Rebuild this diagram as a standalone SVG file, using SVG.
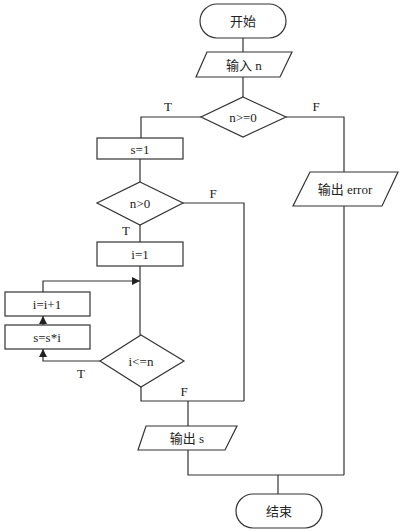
<svg xmlns="http://www.w3.org/2000/svg" width="401" height="532" viewBox="0 0 401 532">
<defs>
<marker id="arr" viewBox="0 0 10 10" refX="10" refY="5" markerWidth="8" markerHeight="8" markerUnits="userSpaceOnUse" orient="auto">
<path d="M0,0 L10,5 L0,10 Z" fill="#222"/>
</marker>
</defs>
<style>
.s{fill:#fff;stroke:#333;stroke-width:1.2}
.c{fill:none;stroke:#333;stroke-width:1.2}
text{font-family:"Liberation Serif","Noto Sans CJK SC",serif;font-size:13px;fill:#222;text-anchor:middle;dominant-baseline:central}
.l{font-size:13px}
</style>
<rect width="401" height="532" fill="#fff"/>
<g id="connectors">
<path class="c" d="M243,38 V52"/>
<path class="c" d="M243,77 V97"/>
<path class="c" d="M201,117 H141 V138"/>
<path class="c" d="M286,117 H344 V172"/>
<path class="c" d="M344,206 V475"/>
<path class="c" d="M140,159 V182"/>
<path class="c" d="M140,225 V242"/>
<path class="c" d="M183,203 H244 V401"/>
<path class="c" d="M140,266 V335"/>
<path class="c" d="M43,292 V281 H140" marker-end="url(#arr)"/>
<path class="c" d="M43,325 V316" marker-end="url(#arr)"/>
<path class="c" d="M100,361 H43 V349" marker-end="url(#arr)"/>
<path class="c" d="M141,387 V401 H244"/>
<path class="c" d="M188,401 V426"/>
<path class="c" d="M188,450 V475 H344"/>
<path class="c" d="M278,475 V494"/>
<text class="l" x="168" y="106">T</text>
<text class="l" x="316" y="106">F</text>
<text class="l" x="213" y="193">F</text>
<text class="l" x="126" y="230">T</text>
<text class="l" x="81" y="373">T</text>
<text class="l" x="184" y="391">F</text>
</g>
<g id="start"><rect class="s" x="200" y="4" width="86" height="34" rx="17"/><text x="243" y="21">开始</text></g>
<g id="input"><path class="s" d="M207,52 H292 L280,77 H196 Z"/><text x="244" y="65">输入 n</text></g>
<g id="cond1"><path class="s" d="M243,97 L286,117 L243,137 L201,117 Z"/><text x="243" y="117">n&gt;=0</text></g>
<g id="s1"><rect class="s" x="97" y="138" width="86" height="21"/><text x="140" y="149">s=1</text></g>
<g id="cond2"><path class="s" d="M140,182 L183,203 L140,225 L97,203 Z"/><text x="140" y="203">n&gt;0</text></g>
<g id="i1"><rect class="s" x="97" y="242" width="86" height="24"/><text x="140" y="254">i=1</text></g>
<g id="inc"><rect class="s" x="5" y="292" width="85" height="24"/><text x="47" y="304">i=i+1</text></g>
<g id="mul"><rect class="s" x="5" y="325" width="85" height="24"/><text x="47" y="337">s=s*i</text></g>
<g id="cond3"><path class="s" d="M141,335 L184,361 L141,387 L100,361 Z"/><text x="141" y="361">i&lt;=n</text></g>
<g id="outs"><path class="s" d="M146,426 H237 L225,450 H138 Z"/><text x="187" y="438">输出 s</text></g>
<g id="oute"><path class="s" d="M310,172 H398 L382,206 H293 Z"/><text x="345" y="189">输出 error</text></g>
<g id="end"><rect class="s" x="236" y="494" width="86" height="34" rx="17"/><text x="279" y="511">结束</text></g>
</svg>
